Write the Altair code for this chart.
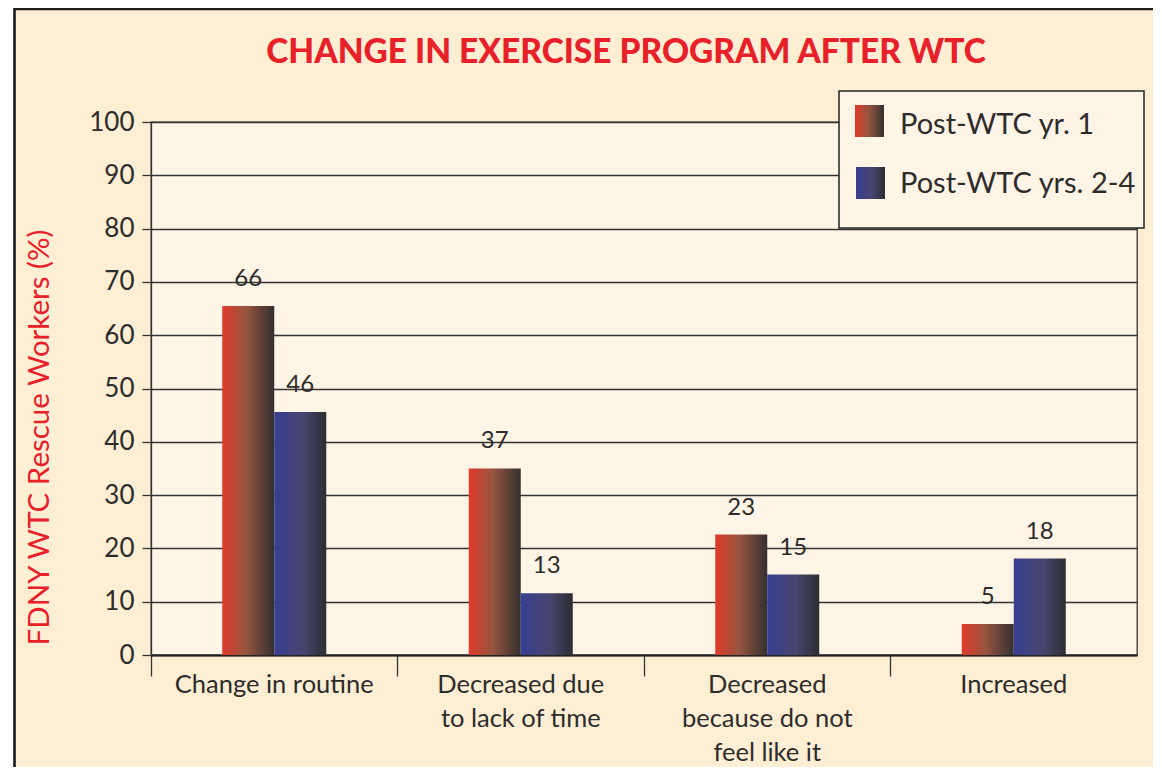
import altair as alt
import pandas as pd

categories = ["Change in routine", "Decreased due|to lack of time",
              "Decreased|because do not|feel like it", "Increased"]
series = ["Post-WTC yr. 1", "Post-WTC yrs. 2-4"]
yr1_values = [65.5, 35.0, 22.6, 5.8]
yrs24_values = [45.6, 11.6, 15.1, 18.1]
yr1_labels = ["66", "37", "23", "5"]
yrs24_labels = ["46", "13", "15", "18"]
y_ticks = [0, 10, 20, 30, 40, 50, 60, 70, 80, 90, 100]

rows = []
for c, v, l in zip(categories, yr1_values, yr1_labels):
    rows.append({"category": c, "series": series[0], "value": v, "label": l})
for c, v, l in zip(categories, yrs24_values, yrs24_labels):
    rows.append({"category": c, "series": series[1], "value": v, "label": l})
df = pd.DataFrame(rows)

FONT = "Lato"
TEXT = "#2e2b2b"
RED = "#E8202A"
W, H = 986, 533
BAND = W / 4

red_grad = alt.Gradient(gradient="linear", x1=0, x2=1, y1=0, y2=0, stops=[
    alt.GradientStop(color="#E03A2A", offset=0),
    alt.GradientStop(color="#98553F", offset=0.45),
    alt.GradientStop(color="#343031", offset=1)])
blue_grad = alt.Gradient(gradient="linear", x1=0, x2=1, y1=0, y2=0, stops=[
    alt.GradientStop(color="#383E92", offset=0),
    alt.GradientStop(color="#474670", offset=0.55),
    alt.GradientStop(color="#2D2D33", offset=1)])

x_enc = alt.X("category:N", sort=categories, title=None,
              scale=alt.Scale(domain=categories, paddingInner=0, paddingOuter=0),
              axis=alt.Axis(bandPosition=0, labelAngle=0, labelLimit=0,
                            labelExpr="split(datum.label, '|')",
                            labelFont=FONT, labelFontSize=25.5, labelColor=TEXT,
                            labelLineHeight=34, labelPadding=-4, labelBaseline="top",
                            tickSize=21, tickColor="#333", tickWidth=1.3,
                            domainColor="#222", domainWidth=2, grid=False))
xoff_enc = alt.XOffset("series:N",
                       scale=alt.Scale(domain=series, paddingInner=0, paddingOuter=0,
                                       range=[BAND / 2 - 52, BAND / 2 + 52]))
y_enc = alt.Y("value:Q", scale=alt.Scale(domain=[0, 100], nice=False),
              axis=alt.Axis(values=y_ticks, title="FDNY WTC Rescue Workers (%)",
                            titleFont=FONT, titleFontSize=29.5, titleFontWeight="normal",
                            titleColor=RED, titleX=-112, titleY=315, titleAngle=270,
                            titleAlign="center", titleBaseline="middle",
                            labelFont=FONT, labelFontSize=26, labelColor=TEXT,
                            labelPadding=8, tickSize=9, tickColor="#333", tickWidth=1.3,
                            domainColor="#333", domainWidth=1.3,
                            grid=True, gridColor="#333", gridWidth=1.3))

base = alt.Chart(df)
bars1 = base.transform_filter(alt.datum.series == series[0]).mark_bar(
    fill=red_grad).encode(x=x_enc, xOffset=xoff_enc, y=y_enc)
bars2 = base.transform_filter(alt.datum.series == series[1]).mark_bar(
    fill=blue_grad).encode(x=x_enc, xOffset=xoff_enc, y=y_enc)
texts = base.mark_text(font=FONT, fontSize=24, color=TEXT, baseline="middle",
                       dy=-27).encode(x=x_enc, xOffset=xoff_enc, y=y_enc,
                                      text="label:N")

one = pd.DataFrame({"k": [0]})
leg_box = alt.Chart(one).mark_rect(fill="#FFF5E6", stroke="#222", strokeWidth=1.5).encode(
    x=alt.value(688), x2=alt.value(993), y=alt.value(-31), y2=alt.value(106))
leg_sw1 = alt.Chart(one).mark_rect(fill=red_grad).encode(
    x=alt.value(704), x2=alt.value(733), y=alt.value(-17), y2=alt.value(15))
leg_sw2 = alt.Chart(one).mark_rect(fill=blue_grad).encode(
    x=alt.value(705), x2=alt.value(734), y=alt.value(45), y2=alt.value(77))
leg_t1 = alt.Chart(one).mark_text(font=FONT, fontSize=29, color=TEXT, align="left",
                                  baseline="middle").encode(
    x=alt.value(749), y=alt.value(3), text=alt.value(series[0]))
leg_t2 = alt.Chart(one).mark_text(font=FONT, fontSize=29, color=TEXT, align="left",
                                  baseline="middle").encode(
    x=alt.value(749), y=alt.value(62), text=alt.value(series[1]))

white_strip = alt.Chart(one).mark_rect(fill="white").encode(
    x=alt.value(-145), x2=alt.value(-137), y=alt.value(-120), y2=alt.value(800))
border = alt.Chart(one).mark_rect(fill="transparent", stroke="#1a1a1a",
                                  strokeWidth=2.6).encode(
    x=alt.value(-136.5), x2=alt.value(1400), y=alt.value(-113), y2=alt.value(1000))

chart = alt.layer(white_strip, bars1, bars2, texts, leg_box, leg_sw1, leg_sw2,
                  leg_t1, leg_t2, border).properties(
    width=W, height=H,
    title=alt.TitleParams("CHANGE IN EXERCISE PROGRAM AFTER WTC", font=FONT,
                          fontSize=33.5, fontWeight=900, color=RED, anchor="middle",
                          dx=-18, offset=-68),
    autosize=alt.AutoSizeParams(type="none"),
    padding={"left": 143, "top": 114, "right": 16, "bottom": 112},
    background="#FEEFD4",
).configure_view(fill="#FFF5E6", stroke="#333", strokeWidth=1.3)

chart.save("out.html", embed_options={"renderer": "svg", "actions": False})
